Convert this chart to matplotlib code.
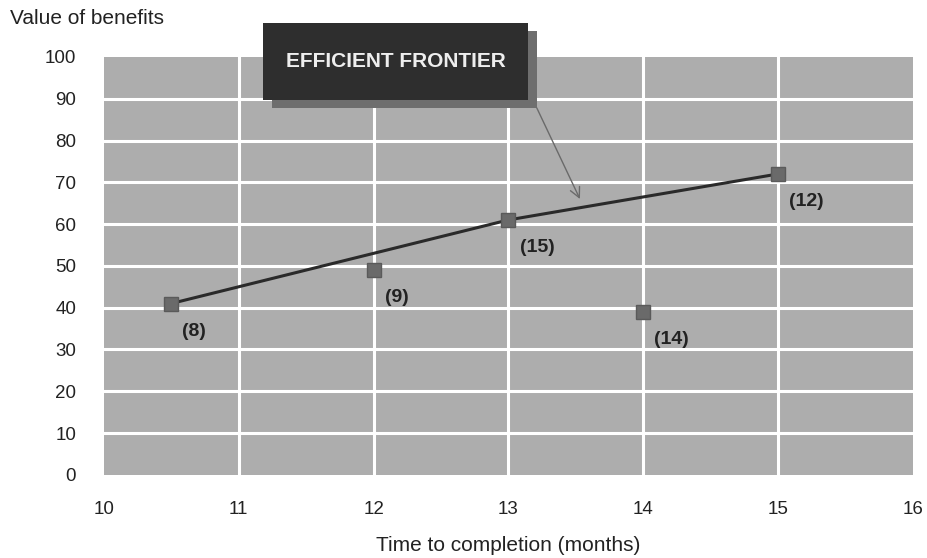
import matplotlib
matplotlib.use('Agg')
import matplotlib.pyplot as plt
from matplotlib.patches import Rectangle

plt.rcParams['font.family'] = ['Liberation Sans', 'DejaVu Sans']

# Projects: time to completion (months) vs value of benefits
months = [10.5, 12, 13, 14, 15]
benefits = [41, 49, 61, 39, 72]
labels = ['(8)', '(9)', '(15)', '(14)', '(12)']

# Projects lying on the efficient frontier (by index)
frontier_idx = [0, 2, 4]

x_ticks = [10, 11, 12, 13, 14, 15, 16]
y_ticks = [0, 10, 20, 30, 40, 50, 60, 70, 80, 90, 100]

fig = plt.figure(figsize=(9.27, 5.58), dpi=100)
ax = fig.add_axes([0.112, 0.149, 0.873, 0.749])
ax.set_facecolor('#adadad')

ax.set_xlim(10, 16)
ax.set_ylim(0, 100)
ax.set_xticks(x_ticks)
ax.set_yticks(y_ticks)
ax.tick_params(length=0, labelsize=13.5, colors='#222222')
ax.tick_params(axis='x', pad=19)
ax.tick_params(axis='y', pad=20)
for s in ax.spines.values():
    s.set_visible(False)

# White grid, only inner lines
for xv in x_ticks[1:-1]:
    ax.axvline(xv, color='white', lw=2.2, zorder=1)
for yv in y_ticks[1:-1]:
    ax.axhline(yv, color='white', lw=2.2, zorder=1)

# Frontier line
fx = [months[i] for i in frontier_idx]
fy = [benefits[i] for i in frontier_idx]
ax.plot(fx, fy, color='#2a2a2a', lw=2.2, zorder=3)

# Project markers
ax.plot(months, benefits, ls='none', marker='s', markersize=10,
        markerfacecolor='#6a6a6a', markeredgecolor='#5a5a5a', zorder=4)

for x, y, lab in zip(months, benefits, labels):
    ax.annotate(lab, (x, y), xytext=(8, -20), textcoords='offset points',
                ha='left', va='center', fontsize=14, fontweight='bold',
                color='#222222', zorder=5)

ax.set_xlabel('Time to completion (months)', fontsize=15, color='#222222', labelpad=13)
fig.text(0.011, 0.967, 'Value of benefits', fontsize=15, color='#222222',
         ha='left', va='center')

# Callout box with drop shadow
bx, by, bw, bh = 0.197, 0.897, 0.327, 0.184
shadow = Rectangle((bx + 0.011, by - 0.019), bw, bh, transform=ax.transAxes,
                   facecolor='#6e6e6e', edgecolor='none', clip_on=False, zorder=6)
box = Rectangle((bx, by), bw, bh, transform=ax.transAxes,
                facecolor='#2e2e2e', edgecolor='none', clip_on=False, zorder=7)
ax.add_patch(shadow)
ax.add_patch(box)
ax.text(bx + bw / 2, by + bh / 2, 'EFFICIENT FRONTIER', transform=ax.transAxes,
        ha='center', va='center', fontsize=15, fontweight='bold',
        color='#eeeeee', zorder=8)

# Arrow from the callout to the frontier
ax.annotate('', xy=(13.53, 66.0), xycoords='data',
            xytext=(bx + bw + 0.011, by - 0.019), textcoords='axes fraction',
            arrowprops=dict(arrowstyle='->', color='#6a6a6a', lw=1.0,
                            mutation_scale=18, shrinkA=0, shrinkB=0),
            zorder=6)

fig.savefig('out.png', dpi=100)
